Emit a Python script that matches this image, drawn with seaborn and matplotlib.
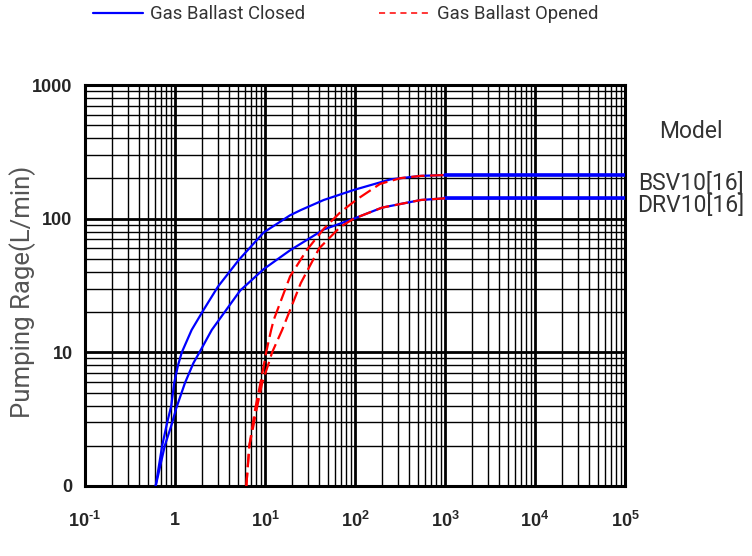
import numpy as np
import pandas as pd
import matplotlib
matplotlib.use("Agg")
import matplotlib.pyplot as plt
import seaborn as sns
from matplotlib.lines import Line2D
from matplotlib.ticker import LogLocator, FixedLocator, FixedFormatter, NullFormatter

# curve readings (inlet pressure x, pumping rate y)
bsv_closed_x = [0.61, 0.72, 0.82, 0.91, 0.98, 1.08, 1.19, 1.53, 2.07, 3.0, 5.1, 9.7, 19, 25, 45, 97, 250, 540, 1000, 100000]
bsv_closed_y = [1, 2.0, 3.0, 4.0, 5.9, 8.0, 10, 14.7, 20.7, 31, 49, 79, 106, 116, 138, 164, 197, 209, 212, 212]

drv_closed_x = [0.61, 0.77, 0.92, 1.03, 1.29, 1.60, 1.87, 2.56, 5.3, 9.7, 19, 45, 97, 200, 540, 1000, 100000]
drv_closed_y = [1, 2.0, 2.9, 3.8, 5.9, 8.3, 10, 14.7, 29, 42, 58, 83, 100, 121, 138, 142, 142]

bsv_opened_x = [6.2, 6.7, 7.3, 7.8, 8.9, 9.8, 10.3, 11.7, 12.5, 19, 29, 45, 69, 106, 190, 320, 540, 1000]
bsv_opened_y = [1, 2.0, 2.9, 3.8, 5.9, 8.3, 10, 14.7, 17.5, 37, 58, 84, 112, 140, 182, 201, 209, 212]

drv_opened_x = [6.2, 6.7, 7.5, 8.1, 9.3, 11.0, 12.0, 15.5, 25, 40, 69, 97, 200, 540, 1000]
drv_opened_y = [1, 2.0, 2.9, 3.8, 5.9, 8.3, 10, 14.7, 33, 60, 87, 100, 121, 138, 142]

x_ticks = [0.1, 1, 10, 100, 1000, 10000, 100000]
x_tick_labels = [r'$10^{\text{-}1}$', '$1$', '$10^{1}$', '$10^{2}$', '$10^{3}$', '$10^{4}$', '$10^{5}$']
y_ticks = [1, 10, 100, 1000]
y_tick_labels = ['0', '10', '100', '1000']
models = ['BSV10[16]', 'DRV10[16]']

sns.set_style("white")
plt.rcParams['font.family'] = ['Roboto', 'DejaVu Sans']
plt.rcParams['mathtext.fontset'] = 'custom'
plt.rcParams['mathtext.rm'] = 'Liberation Sans:bold'
plt.rcParams['mathtext.it'] = 'Liberation Sans:bold'
plt.rcParams['mathtext.bf'] = 'Liberation Sans:bold'
plt.rcParams['mathtext.default'] = 'rm'

fig = plt.figure(figsize=(7.52, 5.56), dpi=100)
ax = fig.add_axes([85 / 752, 1 - 486 / 556, 540 / 752, 401 / 556])

closed = [(bsv_closed_x, bsv_closed_y), (drv_closed_x, drv_closed_y)]
opened = [(bsv_opened_x, bsv_opened_y), (drv_opened_x, drv_opened_y)]

for cx, cy in closed:
    df = pd.DataFrame({'p': cx, 'q': cy})
    sns.lineplot(data=df, x='p', y='q', ax=ax, color='#0000ff', lw=1.6, sort=False, estimator=None, zorder=3)
    flat = df[df['p'] >= 1000]
    sns.lineplot(data=flat, x='p', y='q', ax=ax, color='#0000ff', lw=2.6, sort=False, estimator=None, zorder=3)

for ox, oy in opened:
    df = pd.DataFrame({'p': ox, 'q': oy})
    sns.lineplot(data=df, x='p', y='q', ax=ax, color='#ff0000', lw=1.6, sort=False, estimator=None,
                 zorder=4, dashes=False, linestyle=(0, (6, 2.5)))

ax.set_xscale('log')
ax.set_yscale('log')
ax.set_xlim(0.1, 1e5)
ax.set_ylim(1, 1000)

ax.xaxis.set_major_locator(FixedLocator(x_ticks))
ax.xaxis.set_major_formatter(FixedFormatter(x_tick_labels))
ax.yaxis.set_major_locator(FixedLocator(y_ticks))
ax.yaxis.set_major_formatter(FixedFormatter(y_tick_labels))
ax.xaxis.set_minor_locator(LogLocator(base=10, subs=np.arange(2, 10), numticks=30))
ax.yaxis.set_minor_locator(LogLocator(base=10, subs=np.arange(2, 10), numticks=30))
ax.xaxis.set_minor_formatter(NullFormatter())
ax.yaxis.set_minor_formatter(NullFormatter())

ax.grid(which='major', color='black', lw=2.0, zorder=1)
ax.grid(which='minor', color='black', lw=1.0, zorder=1)
ax.set_axisbelow(True)
ax.tick_params(which='both', length=0)
ax.tick_params(axis='x', pad=18, labelsize=13)
ax.tick_params(axis='y', pad=9)
for lab in ax.get_yticklabels():
    lab.set_fontfamily('Liberation Sans')
    lab.set_fontweight('bold')
    lab.set_fontsize(13)
for s in ax.spines.values():
    s.set_color('black')
    s.set_linewidth(2.2)

ax.set_xlabel('')
ax.set_ylabel('Pumping Rage(L/min)', fontsize=18.5, color='#555555')
ax.yaxis.set_label_coords(-0.09, 0.484)

handles = [Line2D([], [], color='#0000ff', lw=1.6),
           Line2D([], [], color='#ff0000', lw=1.1, linestyle=(0, (4, 3)))]
fig.legend(handles, ['Gas Ballast Closed', 'Gas Ballast Opened'], loc='center left',
           bbox_to_anchor=(76 / 752, 1 - 14 / 556), ncol=2, frameon=False,
           handlelength=2.75, handletextpad=0.38, columnspacing=4.0,
           prop={'size': 13.3}, labelcolor='#333333')

fig.text(691 / 752, 1 - 132 / 556, 'Model', ha='center', va='center', fontsize=16.5, color='#333333')
fig.text(691 / 752, 1 - 184 / 556, models[0], ha='center', va='center', fontsize=16.5, color='#333333')
fig.text(691 / 752, 1 - 206 / 556, models[1], ha='center', va='center', fontsize=16.5, color='#333333')

fig.savefig('out.png', dpi=100)
